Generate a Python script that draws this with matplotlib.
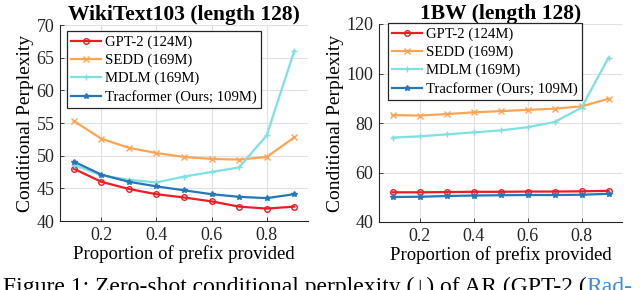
import matplotlib.pyplot as plt
import numpy as np

plt.rcParams['font.family'] = ['Liberation Serif', 'DejaVu Serif']
plt.rcParams['mathtext.fontset'] = 'stix'

prefix = [0.1, 0.2, 0.3, 0.4, 0.5, 0.6, 0.7, 0.8, 0.9]

# WikiText103
wt_gpt2 = [48.0, 46.0, 44.9, 44.1, 43.6, 43.0, 42.2, 41.9, 42.2]
wt_sedd = [55.3, 52.6, 51.2, 50.4, 49.8, 49.5, 49.4, 49.8, 52.8]
wt_mdlm = [48.6, 47.0, 46.3, 45.9, 46.8, 47.5, 48.2, 53.1, 66.0]
wt_trac = [49.1, 47.1, 46.0, 45.3, 44.7, 44.1, 43.7, 43.5, 44.1]

# 1BW
bw_gpt2 = [52.0, 52.0, 52.1, 52.2, 52.2, 52.3, 52.3, 52.4, 52.6]
bw_sedd = [83.2, 83.0, 83.6, 84.3, 84.8, 85.3, 85.8, 86.7, 89.8]
bw_mdlm = [74.1, 74.6, 75.4, 76.2, 77.0, 78.3, 80.4, 86.2, 106.4]
bw_trac = [50.1, 50.2, 50.5, 50.7, 50.8, 50.9, 50.9, 51.0, 51.4]

names = ['GPT-2 (124M)', 'SEDD (169M)', 'MDLM (169M)', 'Tracformer (Ours; 109M)']
colors = ['#ec1c24', '#ffa552', '#7fe0e0', '#2677b8']
markers = ['o', 'x', '+', '*']

fig = plt.figure(figsize=(6.4, 2.9), dpi=100)
ax1 = fig.add_axes([60/640, 69/290, 248/640, 196/290])
ax2 = fig.add_axes([379/640, 68/290, 243/640, 198/290])


def draw(ax, series, title, ylim, yticks, leg_anchor):
    for vals, name, c, m in zip(series, names, colors, markers):
        mfc = 'none' if m == 'o' else c
        ax.plot(prefix, vals, color=c, marker=m, markersize=4, lw=1.6,
                mfc=mfc, mew=1.0, label=name)
    ax.set_xlim(0.05, 0.95)
    ax.set_ylim(*ylim)
    ax.set_xticks([0.2, 0.4, 0.6, 0.8])
    ax.set_yticks(yticks)
    ax.grid(True, color='#e0e0e0', lw=0.8)
    ax.set_axisbelow(True)
    for s in ['top', 'right']:
        ax.spines[s].set_visible(False)
    for s in ['left', 'bottom']:
        ax.spines[s].set_color('#262626')
    ax.tick_params(labelsize=13, direction='in', length=3, width=0.6,
                   pad=4, colors='#262626')
    ax.set_xlabel('Proportion of prefix provided', fontsize=13.5, labelpad=1)
    ax.set_ylabel('Conditional Perplexity', fontsize=14, labelpad=2)
    ax.set_title(title, fontsize=15.5, fontweight='bold', pad=2)
    leg = ax.legend(loc='upper left', bbox_to_anchor=leg_anchor,
                    bbox_transform=fig.transFigure, fontsize=10.6,
                    fancybox=False, edgecolor='#262626', framealpha=1,
                    handlelength=2.0, handletextpad=0.3, labelspacing=0.32,
                    borderpad=0.3, borderaxespad=0)
    leg.get_frame().set_linewidth(0.9)


draw(ax1, [wt_gpt2, wt_sedd, wt_mdlm, wt_trac], 'WikiText103 (length 128)',
     (40, 70), [40, 45, 50, 55, 60, 65, 70], (67/640, 1 - 31/290))
draw(ax2, [bw_gpt2, bw_sedd, bw_mdlm, bw_trac], '1BW (length 128)',
     (40, 120), [40, 60, 80, 100, 120], (388/640, 1 - 23/290))

caption = fig.text(0.004, -0.012, 'Figure 1: Zero-shot conditional perplexity (\u2193) of AR (GPT-2 (',
                   fontsize=17, ha='left', va='baseline')
fig.canvas.draw()
bb = caption.get_window_extent()
fig.text(bb.x1 / fig.bbox.width, -0.012, 'Rad-', fontsize=17, color='#3a8ee6',
         ha='left', va='baseline')

fig.savefig('out.png', dpi=100)
